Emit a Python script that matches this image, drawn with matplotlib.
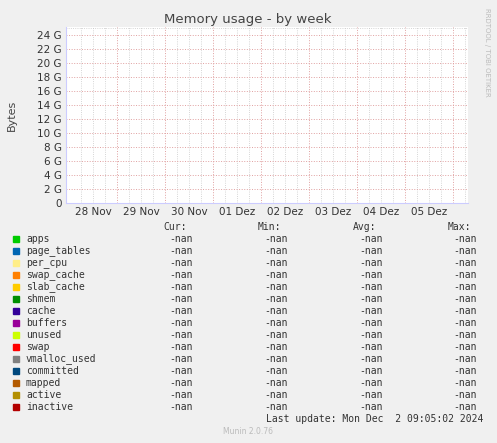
import matplotlib
matplotlib.use('Agg')
import matplotlib.pyplot as plt
from datetime import datetime, timedelta
import numpy as np

W, H = 497, 443
names = ['apps', 'page_tables', 'per_cpu', 'swap_cache', 'slab_cache', 'shmem', 'cache',
         'buffers', 'unused', 'swap', 'vmalloc_used', 'committed', 'mapped', 'active', 'inactive']
colors = ['#00CC00', '#0066B3', '#FFEE88', '#FF8000', '#FFCC00', '#008F00', '#330099',
          '#990099', '#CCFF00', '#FF0000', '#808080', '#00487D', '#B35A00', '#B38F00', '#B30000']
cur = ['-nan'] * len(names)
mins = ['-nan'] * len(names)
avgs = ['-nan'] * len(names)
maxs = ['-nan'] * len(names)
yticks = list(range(0, 25, 2))
day_labels = ['28 Nov', '29 Nov', '30 Nov', '01 Dez', '02 Dez', '03 Dez', '04 Dez', '05 Dez']
start = datetime(2024, 11, 28)

fig = plt.figure(figsize=(W / 100, H / 100), dpi=100, facecolor='#F0F0F0')
ax = fig.add_axes([66 / W, 1 - 203 / H, (468 - 66) / W, (203 - 27) / H])
ax.set_facecolor('white')
x0 = start - timedelta(days=3 / 48)
x1 = start + timedelta(days=(468 - 69) / 48)
ax.set_xlim(x0, x1)
ax.set_ylim(0, 25.1)
ax.set_yticks(yticks)
ax.set_yticklabels([f'{v} G' if v else '0' for v in yticks], fontsize=7.5, color='#333333')

# gray grid every 6 hours
for i in range(36):
    t = start + timedelta(hours=6 * i)
    if t < x1 and i % 4:
        ax.axvline(t, color='#C8C8C8', linestyle=':', linewidth=0.6, zorder=0)
# red midnight lines, labels centred at noon
mid = [start + timedelta(days=i) for i in range(1, 9)]
for t in mid:
    ax.axvline(t, color='#E0A0A0', linestyle=':', linewidth=0.7, zorder=0)
ax.set_xticks([start + timedelta(days=i, hours=12) for i in range(8)])
ax.set_xticklabels(day_labels, fontsize=7.5, color='#333333')
for v in yticks[1:]:
    ax.axhline(v, color='#E0A0A0', linestyle=':', linewidth=0.7, zorder=0)
ax.axhline(25.0, color='#C8C8C8', linestyle=':', linewidth=0.6, zorder=0)
ax.tick_params(length=0, which='both', pad=3)
for s in ['top', 'right']:
    ax.spines[s].set_visible(False)
for s in ['left', 'bottom']:
    ax.spines[s].set_color('#CCCCFF')
for n, c in zip(names, colors):
    ax.plot([x0, x1], [np.nan, np.nan], color=c)

fig.text(248 / W, 1 - 19 / H, 'Memory usage - by week', ha='center', va='center', fontsize=9.5, color='#444444')
fig.text(12 / W, 1 - 115 / H, 'Bytes', rotation=90, ha='center', va='center', fontsize=8, color='#444444')
fig.text(487 / W, 1 - 52 / H, 'RRDTOOL / TOBI OETIKER', rotation=270, ha='center', va='center', fontsize=5, color='#BBBBBB')
fig.text(248 / W, 1 - 432 / H, 'Munin 2.0.76', ha='center', va='center', fontsize=5.5, color='#BBBBBB')

mono = dict(family='DejaVu Sans Mono', fontsize=7, color='#333333', va='center')
fig.text(187 / W, 1 - 227 / H, 'Cur:', ha='right', **mono)
fig.text(281 / W, 1 - 227 / H, 'Min:', ha='right', **mono)
fig.text(376 / W, 1 - 227 / H, 'Avg:', ha='right', **mono)
fig.text(471 / W, 1 - 227 / H, 'Max:', ha='right', **mono)
for i, (n, c) in enumerate(zip(names, colors)):
    y = 1 - (239 + 12 * i) / H
    fig.patches.append(plt.Rectangle((13 / W, y - 3 / H), 6 / W, 6 / H, color=c, transform=fig.transFigure))
    fig.text(26 / W, y, n, ha='left', **mono)
    fig.text(193 / W, y, cur[i], ha='right', **mono)
    fig.text(288 / W, y, mins[i], ha='right', **mono)
    fig.text(383 / W, y, avgs[i], ha='right', **mono)
    fig.text(477 / W, y, maxs[i], ha='right', **mono)
fig.text(483 / W, 1 - 419 / H, 'Last update: Mon Dec  2 09:05:02 2024', ha='right', **mono)

fig.savefig('out.png', dpi=100, facecolor=fig.get_facecolor())
